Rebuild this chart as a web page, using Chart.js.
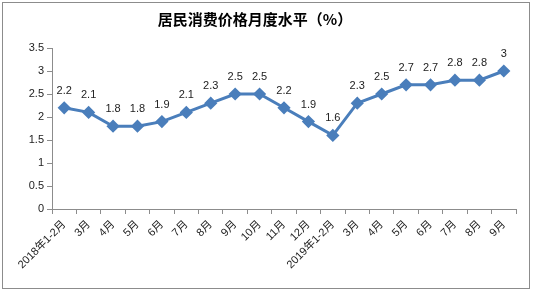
<!DOCTYPE html>
<html>
<head>
<meta charset="utf-8">
<script src="https://cdn.jsdelivr.net/npm/chart.js@4"></script>
<style>
  body { margin: 0; background: #fff; }
  #wrap { width: 533px; height: 291px; }
</style>
</head>
<body>
<div id="wrap"><canvas id="chart" width="533" height="291"></canvas></div>
<script>
const TITLE = "居民消费价格月度水平（%）";
const months = ["2018年1-2月", "3月", "4月", "5月", "6月", "7月", "8月", "9月", "10月", "11月", "12月",
  "2019年1-2月", "3月", "4月", "5月", "6月", "7月", "8月", "9月"];
const cpi = [2.2, 2.1, 1.8, 1.8, 1.9, 2.1, 2.3, 2.5, 2.5, 2.2, 1.9, 1.6, 2.3, 2.5, 2.7, 2.7, 2.8, 2.8, 3];

const FONT = "'Liberation Sans', 'Noto Sans CJK SC', sans-serif";

// frame, title and point labels
const extras = {
  id: "extras",
  beforeDraw(chart) {
    const ctx = chart.ctx;
    ctx.save();
    ctx.fillStyle = "#fff";
    ctx.fillRect(0, 0, chart.width, chart.height);
    ctx.strokeStyle = "#8c8c8c";
    ctx.lineWidth = 1;
    ctx.strokeRect(2.5, 2.5, 527, 286);
    ctx.fillStyle = "#000";
    ctx.font = "bold 15px 'Noto Sans CJK SC', sans-serif";
    ctx.textAlign = "center";
    ctx.textBaseline = "middle";
    ctx.fillText(TITLE, 255, 19);
    ctx.restore();
  },
  afterDatasetsDraw(chart) {
    const ctx = chart.ctx;
    const meta = chart.getDatasetMeta(0);
    ctx.save();
    ctx.fillStyle = "#222";
    ctx.font = "11px " + FONT;
    ctx.textAlign = "center";
    ctx.textBaseline = "middle";
    meta.data.forEach((pt, i) => {
      ctx.fillText(String(cpi[i]), pt.x, pt.y - 17);
    });
    ctx.restore();
  }
};

new Chart(document.getElementById("chart"), {
  type: "line",
  data: {
    labels: months,
    datasets: [{
      data: cpi,
      borderColor: "#4a7ebb",
      backgroundColor: "#4a7ebb",
      borderWidth: 3,
      pointStyle: "rectRot",
      pointRadius: 4.5,
      pointHoverRadius: 4.5,
      tension: 0
    }]
  },
  options: {
    responsive: false,
    animation: false,
    layout: { padding: { top: 48, right: 17, left: 0, bottom: 0 } },
    plugins: {
      legend: { display: false },
      tooltip: { enabled: false }
    },
    scales: {
      x: {
        offset: true,
        grid: { offset: true, drawOnChartArea: false, tickLength: 5, color: "#8c8c8c" },
        border: { color: "#8c8c8c" },
        ticks: {
          autoSkip: false,
          maxRotation: 45,
          minRotation: 45,
          color: "#222",
          font: { size: 11, family: FONT },
          padding: 4
        },
        afterFit(scale) { scale.height = 82; }
      },
      y: {
        min: 0,
        max: 3.5,
        grid: { drawOnChartArea: false, tickLength: 5, color: "#8c8c8c" },
        border: { color: "#8c8c8c" },
        ticks: {
          stepSize: 0.5,
          color: "#222",
          font: { size: 11, family: FONT },
          padding: 3,
          callback: v => String(v)
        },
        afterFit(scale) { scale.width = 52; }
      }
    }
  },
  plugins: [extras]
});
</script>
</body>
</html>
